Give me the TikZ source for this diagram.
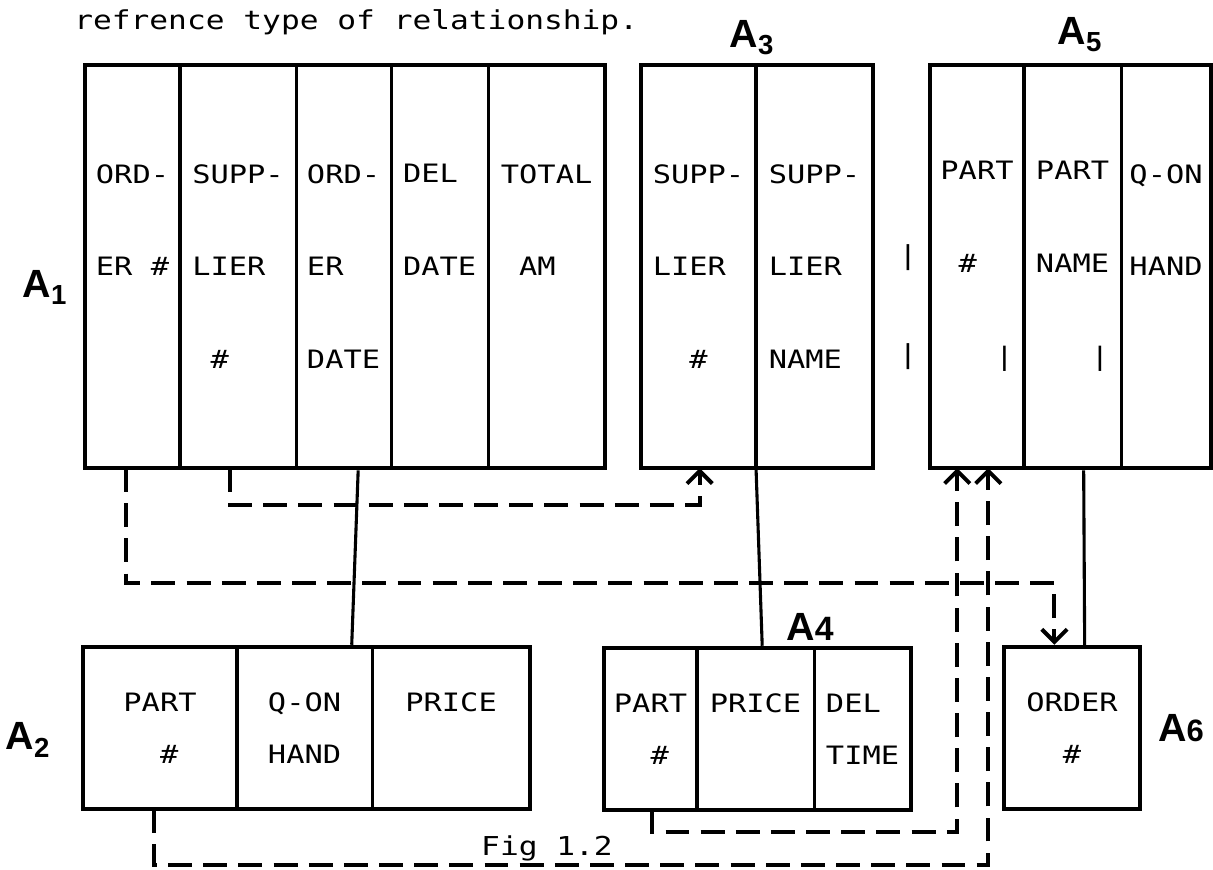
\documentclass[tikz,border=0pt]{standalone}
\usepackage{fontspec}
\setmonofont[FakeStretch=1.2]{DejaVu Sans Mono}
\newfontfamily\handfont{Liberation Sans}
\usepackage{tikz}
\usetikzlibrary{arrows.meta, positioning, calc, fit}

\begin{document}
\begin{tikzpicture}[x=0.025cm, y=-0.025cm,
  cell/.style={draw, line width=2.2pt, outer sep=0pt, inner sep=0pt, align=left,
               minimum height=10.075cm, font=\ttfamily\fontsize{18}{66}\selectfont},
  lowcell/.style={cell, minimum height=4.05cm, font=\ttfamily\fontsize{18}{37}\selectfont},
  frame/.style={draw, line width=3.2pt, inner sep=0pt},
  hand/.style={font=\handfont\bfseries\fontsize{28}{28}\selectfont, inner sep=0pt},
  typed/.style={font=\ttfamily\fontsize{18.5}{20}\selectfont, inner sep=0pt},
  link/.style={line width=2.2pt},
  ref/.style={line width=2.8pt, dash pattern=on 17pt off 8pt,
              -{Straight Barb[length=9pt, width=18pt]}}]
  \useasboundingbox (0,0) rectangle (1213,870);

  \node[typed, anchor=west] (title) at (74,22) {refrence type of relationship.};

  % A1
  \node[cell, minimum width=2.375cm, anchor=north west] (a1c1) at (85,65) {ORD-\\ER~\#\\~};
  \node[cell, minimum width=2.9cm, right=0pt of a1c1] (a1c2) {SUPP-\\LIER\\~\#};
  \node[cell, minimum width=2.375cm, right=0pt of a1c2] (a1c3) {ORD-\\ER\\DATE};
  \node[cell, minimum width=2.425cm, right=0pt of a1c3] (a1c4) {DEL\\DATE\\~};
  \node[cell, minimum width=2.925cm, right=0pt of a1c4] (a1c5) {TOTAL\\~AM\\~};
  \node[frame, fit=(a1c1)(a1c5)] (A1) {};
  \node[hand] (l1) at (45,287) {A\textsubscript{1}};

  % A3
  \node[cell, minimum width=2.875cm, anchor=north west] (a3c1) at (641,65) {SUPP-\\LIER\\~~\#};
  \node[cell, minimum width=2.925cm, right=0pt of a3c1] (a3c2) {SUPP-\\LIER\\NAME};
  \node[frame, fit=(a3c1)(a3c2)] (A3) {};
  \node[hand] (l3) at (752,38) {A\textsubscript{3}};

  % A5
  \node[cell, minimum width=2.35cm, anchor=north west] (a5c1) at (930,65) {PART\\~\#\\~~~|};
  \node[cell, minimum width=2.425cm, right=0pt of a5c1] (a5c2) {PART\\NAME\\~~~|};
  \node[cell, minimum width=2.25cm, right=0pt of a5c2] (a5c3) {Q-ON\\HAND\\~};
  \node[frame, fit=(a5c1)(a5c3)] (A5) {};
  \node[hand] (l5) at (1080,35) {A\textsubscript{5}};
  \node[typed] (bar1) at (908,258) {|};
  \node[typed] (bar2) at (908,357) {|};

  % A2
  \node[lowcell, minimum width=3.85cm, anchor=north west] (a2c1) at (83,647) {PART\\~~\#~};
  \node[lowcell, minimum width=3.375cm, right=0pt of a2c1] (a2c2) {Q-ON\\HAND};
  \node[lowcell, minimum width=3.95cm, right=0pt of a2c2] (a2c3) {PRICE\\~};
  \node[frame, fit=(a2c1)(a2c3)] (A2) {};
  \node[hand] (l2) at (28,740) {A\textsubscript{2}};

  % A4
  \node[lowcell, minimum width=2.325cm, anchor=north west] (a4c1) at (604,648) {PART\\~~\#~};
  \node[lowcell, minimum width=2.925cm, right=0pt of a4c1] (a4c2) {PRICE\\~};
  \node[lowcell, minimum width=2.425cm, right=0pt of a4c2] (a4c3) {DEL\\TIME};
  \node[frame, fit=(a4c1)(a4c3)] (A4) {};
  \node[hand] (l4) at (810,627) {A{\fontsize{24}{24}\selectfont 4}};

  % A6
  \node[lowcell, minimum width=3.4cm, anchor=north west] (a6c1) at (1004,647) {ORDER\\~~\#~~};
  \node[frame, fit=(a6c1)] (A6) {};
  \node[hand] (l6) at (1181,728) {A{\fontsize{22}{22}\selectfont 6}};

  \node[typed] (fig) at (547,848) {Fig 1.2};

  % one-to-many links
  \draw[link] ($(A1.south west)!0.525!(A1.south east)$) -- ($(A2.north west)!0.6!(A2.north east)$);
  \draw[link] (a3c1.south east) -- ($(A4.north west)!0.515!(A4.north east)$);
  \draw[link] ($(A5.south west)!0.546!(A5.south east)$) -- ($(A6.north west)!0.59!(A6.north east)$);

  % reference links
  \draw[ref] ($(a1c2.south west)!0.43!(a1c2.south east)$) -- ++(0,37)
    -| ($(a3c1.south west)!0.51!(a3c1.south east)$);
  \draw[ref] ($(a1c1.south west)!0.43!(a1c1.south east)$) -- ++(0,115)
    -| ($(A6.north west)!0.375!(A6.north east)$);
  \draw[ref] ($(a4c1.south west)!0.52!(a4c1.south east)$) -- ++(0,22)
    -| ($(a5c1.south west)!0.29!(a5c1.south east)$);
  \draw[ref] ($(a2c1.south west)!0.46!(a2c1.south east)$) -- ++(0,56)
    -| ($(a5c1.south west)!0.62!(a5c1.south east)$);
\end{tikzpicture}
\end{document}
